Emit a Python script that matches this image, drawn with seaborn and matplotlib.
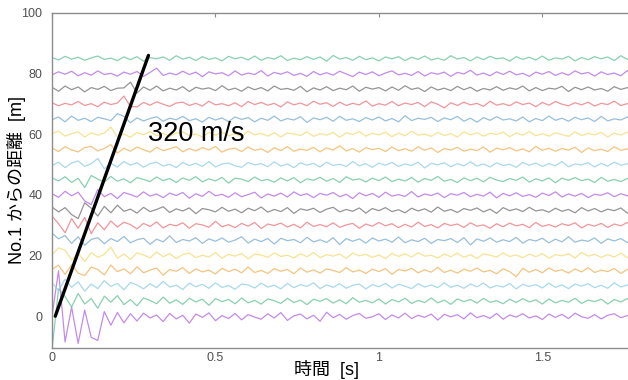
import numpy as np
import pandas as pd
import matplotlib
matplotlib.use("Agg")
import matplotlib.pyplot as plt
import seaborn as sns

# ---- data ----
dt = 0.02  # sample spacing [s]
offsets = [0, 5, 10, 15, 20, 25, 30, 35, 40, 45, 50, 55, 60, 65, 70, 75, 80, 85]
trace_colors = ["#b56ee3", "#6cc4a0", "#93cfe8", "#f0b660", "#f4dc78", "#7eafd3", "#ec7c80", "#7a7a7a"]

tr00 = [0.0, 15.0, -8.5, 3.0, -9.0, 2.0, -7.0, -8.0, 1.5, -3.0, 1.2, -2.2, 0.8, -1.6, 1.0, -0.6, 0.4, -1.8, 0.9, -0.9, 0.3, -2.3, 0.7, -0.4, 1.1, -1.5, 0.2, -0.8, 0.9, -1.2, 0.5, -0.3, -1.0, 0.8, -0.6, 1.2, -1.4, 0.1, 0.7, -0.9, 0.3, -1.7, 1.3, -0.5, 0.6, -1.0, 0.2, 0.9, -0.7, -0.2, 0.8, -1.1, 0.4, -0.6, 1.0, -0.8, 0.3, -0.4, 0.7, -1.3, 0.6, -0.2, 0.5, -0.9, 1.1, -0.5, 0.2, -0.7, 0.9, -1.0, 0.4, -0.3, 0.8, -0.6, 0.1, -1.1, 0.7, -0.4, 0.6, -0.8, 1.0, -0.2, -0.7, 0.5, -0.9, 0.3, 0.8, -0.5, 0.2, -0.6, 0.9, -0.4]
tr05 = [-16.0, 4.0, 1.5, -2.0, 2.5, -1.0, 0.8, -2.4, 1.6, -0.4, 1.8, -1.2, 0.5, -1.6, 1.0, 0.2, -0.9, 1.3, -0.7, 0.4, -1.1, 0.9, -0.3, 0.6, -1.4, 0.8, -0.2, 0.5, -0.9, 1.0, -0.6, 0.2, -1.0, 0.7, 0.1, -0.8, 0.9, -0.5, 0.3, -1.2, 0.6, -0.1, 0.8, -0.7, 0.4, -0.9, 1.1, -0.4, 0.2, -0.6, 0.7, -1.0, 0.5, -0.3, 0.9, -0.8, 0.2, -0.5, 1.0, -0.6, 0.3, -1.1, 0.7, -0.2, 0.5, -0.7, 0.9, -0.4, 0.1, -0.9, 0.6, -0.5, 0.8, -0.3, 0.4, -1.0, 0.7, -0.6, 0.2, -0.4, 0.9, -0.8, 0.3, -0.2, 0.6, -1.0, 0.5, -0.3, 0.8, -0.6, 0.2, -0.5]
tr10 = [1.0, -1.5, 2.2, -0.5, 1.4, -1.8, 0.6, -0.9, 1.7, -0.2, 0.8, -1.3, 1.1, 0.3, -1.0, 0.7, -0.6, 1.5, -0.4, 0.2, -1.2, 0.9, -0.3, 0.5, -0.8, 1.0, -0.5, 0.1, -1.1, 0.6, 0.3, -0.7, 0.9, -0.4, 0.2, -1.0, 0.8, -0.6, 0.4, -0.2, 1.0, -0.9, 0.3, -0.5, 0.7, -0.8, 0.2, 0.6, -1.0, 0.4, -0.3, 0.8, -0.7, 0.5, -0.1, -0.9, 0.7, -0.4, 0.3, -0.6, 1.0, -0.5, 0.2, -0.8, 0.6, -0.3, 0.9, -0.7, 0.1, -0.4, 0.8, -1.0, 0.5, -0.2, 0.4, -0.7, 0.9, -0.5, 0.3, -0.9, 0.6, -0.1, 0.7, -0.6, 0.2, -0.8, 1.0, -0.4, 0.3, -0.5, 0.6, -0.3]
tr15 = [0.5, 1.8, -1.2, 2.0, -0.8, -1.6, 1.2, 0.4, -1.4, 1.9, -0.3, 0.6, -1.0, 1.3, -0.7, 0.2, 0.9, -1.5, 0.4, -0.2, 1.0, -0.9, 0.6, -0.4, 0.2, -1.1, 0.8, -0.3, 0.5, -0.7, 1.2, -0.6, 0.1, -0.9, 0.7, -0.2, 0.4, -1.0, 0.9, -0.5, 0.3, -0.8, 0.6, 0.1, -0.6, 1.0, -0.4, 0.2, -0.9, 0.5, -0.3, 0.7, -1.2, 0.4, -0.1, 0.8, -0.7, 0.3, -0.5, 1.1, -0.6, 0.2, -0.8, 0.5, -0.2, 0.9, -0.4, 0.1, -1.0, 0.6, -0.3, -2.0, 0.8, -0.5, 0.4, -0.7, 0.9, -0.2, 0.3, -0.8, 0.6, -0.4, 1.0, -0.6, 0.2, -0.3, 0.7, -0.9, 0.4, -0.1, 0.5, -0.7]
tr20 = [0.3, 2.5, 1.8, -1.5, 0.8, -2.0, 1.0, -0.6, 0.4, 2.8, -0.9, 0.5, -1.3, 0.9, 0.2, -0.8, 1.2, -0.4, 0.6, -1.0, 0.3, 0.8, -0.7, 0.1, -0.5, 1.0, -0.9, 0.4, -0.2, 0.7, -1.1, 0.5, 0.2, -0.6, 0.9, -0.3, 0.1, -0.8, 0.6, -0.4, 1.0, -0.7, 0.3, -0.2, 0.5, -0.9, 0.8, -0.1, 0.4, -0.6, 0.2, -1.0, 0.7, -0.3, 0.6, -0.5, 0.9, -0.2, 0.1, -0.8, 0.5, -0.4, 0.8, -0.6, 0.3, -1.0, 0.6, 0.1, -0.5, 0.9, -0.3, 0.2, -0.7, 0.5, -0.4, 0.7, -0.9, 0.3, -0.1, 0.6, -0.8, 1.0, -0.2, 0.4, -0.6, 0.3, -0.5, 0.8, -0.7, 0.2, -0.3, 0.6]
tr25 = [2.4, 0.5, 1.6, -1.0, 1.2, -1.6, 0.3, 0.9, -1.1, 0.6, -0.4, 1.3, -0.8, 0.2, 0.7, -1.3, 0.4, -0.5, 1.5, -0.7, 0.3, -0.2, 0.9, -1.0, 0.5, -0.3, 0.8, -0.6, 0.1, 1.2, -0.9, 0.4, -0.4, 0.6, -1.2, 0.7, -0.1, 0.3, -0.8, 1.0, -0.5, 0.2, -0.7, 0.9, -1.4, 0.6, -0.3, 0.5, -0.9, 0.8, -0.2, 0.4, -0.6, 1.1, -0.8, 0.2, -0.4, 0.7, -1.0, 0.3, -0.1, 0.6, -0.7, 0.9, -1.5, 0.5, -0.3, 0.8, -0.6, 0.2, -0.4, 1.0, -0.9, 0.3, -0.2, 0.7, -0.8, 0.4, -0.5, 1.2, -0.6, 0.1, -0.3, 0.8, -1.0, 0.5, -0.2, 0.6, -0.7, 0.3, -0.4, 0.9]
tr30 = [3.0, 0.5, -2.5, 2.2, -1.0, 2.6, -2.8, 0.8, -1.5, 1.4, -0.6, 1.0, 0.2, -1.2, 0.6, -0.4, 1.1, -0.9, 0.3, -0.2, 0.8, -1.0, 0.5, 0.1, -0.7, 1.3, -0.5, 0.2, -0.8, 0.6, -0.3, 0.9, -1.1, 0.4, -0.1, 0.7, -0.6, 0.3, -0.9, 1.0, -0.4, 0.2, -0.5, 0.8, -0.7, 0.1, 0.6, -1.0, 0.4, -0.3, 0.9, -0.2, 0.5, -0.8, 0.3, -0.6, 1.0, -0.4, 0.2, -0.9, 0.6, -0.1, 0.4, -0.7, 0.8, -0.3, 0.1, -1.0, 0.5, -0.5, 0.7, -0.2, 0.3, -0.8, 0.9, -0.4, 0.2, -0.6, 0.5, -0.1, 0.8, -0.9, 0.3, -0.3, 0.6, -0.7, 0.4, -0.2, 0.9, -0.5, 0.1, -0.6]
tr35 = [1.0, -0.6, 0.8, -1.5, -2.8, 2.4, 0.6, -2.0, 1.2, -0.9, 1.6, -0.4, 0.3, -1.0, 0.9, -0.5, 0.2, 1.1, -0.8, 0.4, -0.3, 0.7, -1.2, 0.5, 0.1, -0.6, 0.9, -0.4, 0.3, -0.9, 0.6, -0.2, 1.0, -0.7, 0.2, -0.5, 0.8, -1.1, 0.4, -0.1, 0.6, -0.8, 0.3, 0.9, -0.6, 0.2, -0.4, 0.7, -1.0, 0.5, -0.2, 0.8, -0.5, 0.1, -0.9, 0.6, -0.3, 0.4, -0.7, 1.0, -0.4, 0.2, -0.8, 0.5, -0.1, 0.7, -0.6, 0.3, -1.1, 0.8, -0.2, 0.4, -0.5, 0.9, -0.3, 0.1, -0.7, 0.6, -0.4, 0.2, -0.9, 0.8, -0.3, 0.5, -0.6, 0.3, -0.2, 0.7, -1.0, 0.4, -0.1, 0.6]
tr40 = [0.4, -0.8, 1.2, -0.3, 0.9, -2.0, -3.2, 1.8, -0.6, 0.5, -1.2, 0.8, 0.1, -0.7, 1.0, -0.4, 0.3, -0.9, 0.6, -0.2, 0.8, -1.1, 0.4, -0.5, 1.2, -0.3, 0.2, -0.8, 0.7, -0.6, 0.1, 0.9, -1.0, 0.3, -0.4, 0.6, -0.7, 1.0, -0.2, 0.4, -0.9, 0.5, -0.1, 0.8, -0.6, 0.2, -1.2, 0.7, -0.3, 0.5, -0.8, 0.9, -0.4, 0.1, -0.5, 1.1, -0.7, 0.3, -0.2, 0.6, -0.9, 0.4, -0.1, 0.8, -0.6, 0.2, -0.4, 0.9, -1.0, 0.5, -0.3, 0.7, -0.5, 0.1, -0.8, 0.6, -0.2, 1.0, -0.7, 0.3, -0.4, 0.5, -0.9, 0.2, -0.1, 0.7, -0.6, 0.4, -0.3, 0.8, -0.5, 0.2]
tr45 = [0.6, -0.4, 1.0, -0.9, 0.5, -2.6, 1.4, 0.2, -0.8, 1.1, -0.5, 0.3, -1.0, 0.7, 0.1, -0.6, 0.9, -0.3, 0.4, -0.9, 0.6, -0.2, 1.0, -0.7, 0.3, -0.4, 0.8, -1.1, 0.5, 0.2, -0.6, 0.9, -0.3, 0.1, -0.8, 0.6, -0.4, 0.7, -1.0, 0.3, -0.2, 0.8, -0.5, 0.4, -0.9, 1.0, -0.1, 0.3, -0.7, 0.5, -0.3, 0.9, -0.6, 0.2, -0.4, 0.7, -0.8, 0.4, -0.2, 1.1, -0.5, 0.1, -0.9, 0.6, -0.3, 0.5, -0.7, 0.8, -0.1, -0.6, 0.4, -0.2, 0.9, -0.8, 0.3, -0.4, 0.6, -1.0, 0.5, -0.2, 0.7, -0.3, 0.2, -0.9, 0.8, -0.5, 0.1, -0.6, 0.4, -0.3, 0.7, -0.4]
tr50 = [-0.3, 0.8, -1.0, 0.5, 1.2, -0.6, 0.3, 2.0, -1.4, 0.4, -0.8, 1.0, -0.2, 0.6, -0.9, 0.3, 0.8, -0.5, 0.1, -1.0, 0.7, -0.3, 0.4, -0.6, 1.0, -0.8, 0.2, 0.5, -0.4, -0.9, 0.7, -0.1, 0.3, -0.7, 0.9, -0.5, 0.2, -1.0, 0.6, -0.2, 0.4, -0.8, 0.8, -0.3, 0.1, -0.6, 1.0, -0.4, 0.3, -0.9, 0.5, -0.2, 0.7, -0.6, 0.2, -0.3, 0.8, -1.1, 0.4, -0.1, 0.6, -0.7, 0.3, -0.4, 0.9, -0.5, 0.2, -0.8, 0.6, -0.3, 0.1, -0.9, 0.7, -0.2, 0.5, -0.6, 0.3, -0.4, 1.0, -0.7, 0.2, -0.1, 0.6, -0.8, 0.4, -0.5, 0.8, -0.2, 0.3, -0.9, 0.5, -0.3]
tr55 = [0.5, -0.7, 0.9, -0.2, -0.8, 0.6, 1.0, -0.5, 0.3, 1.6, -1.2, 0.4, -0.6, 0.8, -0.1, -0.9, 0.7, -0.4, 0.2, 0.9, -0.8, 0.3, -0.5, 0.6, -0.2, 1.0, -0.9, 0.1, 0.4, -0.7, 0.8, -0.3, 0.2, -1.0, 0.6, -0.4, 0.9, -0.6, 0.1, -0.3, 0.7, -0.8, 0.5, -0.2, 1.2, -0.5, 0.3, -0.9, 0.6, -0.1, 0.4, -0.7, 0.8, -0.4, 0.2, -0.6, 0.9, -0.3, 0.5, -1.0, 0.3, -0.2, 0.7, -0.6, 0.1, -0.4, 0.8, -0.9, 0.4, -0.1, 0.6, -0.5, 0.2, -0.8, 1.0, -0.3, 0.4, -0.6, 0.3, -0.2, 0.7, -1.0, 0.5, -0.4, 0.1, -0.7, 0.9, -0.3, 0.2, -0.5, 0.6, -0.2]
tr60 = [0.3, 1.0, -0.6, 0.2, 0.8, -0.9, 0.5, -0.3, 0.4, 2.4, -0.8, 0.1, -1.0, 0.6, -0.2, 0.9, -0.5, 0.3, -0.7, 0.4, 0.8, -0.4, 0.1, -0.9, 0.6, -0.3, 0.7, -0.5, 0.2, -0.8, 1.0, -0.2, 0.3, -0.6, 0.5, -0.9, 0.4, 0.1, -0.4, 0.8, -0.7, 0.2, -0.3, 0.6, -1.0, 0.5, -0.1, 0.9, -0.6, 0.3, -0.2, 0.7, -0.8, 0.4, -0.5, 1.0, -0.3, 0.1, -0.7, 0.6, -0.4, 0.2, -0.9, 0.8, -0.2, 0.5, -0.6, 0.3, -0.1, 0.7, -0.8, 0.4, -0.3, 0.9, -0.5, 0.2, -0.6, 0.5, -0.1, -0.7, 0.8, -0.4, 0.3, -0.2, 0.6, -0.9, 0.4, -0.3, 0.7, -0.5, 0.1, -0.4]
tr65 = [-0.2, 0.7, -0.9, 1.0, -0.4, 0.3, -0.8, 0.6, 0.1, -0.5, 1.8, 0.9, -1.2, 0.4, -0.6, 0.2, 0.8, -0.7, 0.3, -0.2, 0.9, -0.5, 0.1, -1.0, 0.6, -0.3, 0.4, -0.8, 0.7, -0.1, 0.5, -0.9, 0.3, -0.4, 1.0, -0.6, 0.2, -0.3, 0.8, -1.1, 0.4, -0.2, 0.6, -0.7, 0.9, -0.4, 0.1, -0.8, 0.5, -0.3, 0.7, -0.6, 0.2, -0.9, 1.1, -0.5, 0.3, -0.1, 0.6, -0.8, 0.4, -0.2, 0.9, -0.7, 0.3, -1.0, 0.5, -0.4, 0.8, -0.3, 0.1, -0.6, 0.7, -0.9, 0.2, -0.5, 1.0, -0.4, 0.3, -0.7, 0.6, -0.2, 0.4, -0.8, 0.9, -0.6, 0.1, -0.3, 0.7, -0.5, 0.3, -0.6]
tr70 = [0.4, -0.6, 0.2, -0.3, 0.8, -0.5, 0.1, -0.9, 0.6, -0.2, 0.3, 2.6, -0.8, -1.0, 0.5, -0.4, 0.7, -0.1, -0.8, 0.3, 0.6, -0.5, 0.2, -0.7, 0.9, -0.3, 0.1, -0.6, 0.4, -0.9, 0.8, -0.2, 0.5, -0.4, 0.2, -1.0, 0.7, -0.3, 0.3, -0.6, 0.9, -0.1, 0.4, -0.8, 0.6, -0.5, 0.2, -0.3, 1.0, -0.7, 0.1, -0.4, 0.8, -0.6, 0.3, -0.2, 0.5, -0.9, 0.7, -0.1, -1.3, 0.4, -0.5, 0.6, -0.3, 0.2, -0.8, 0.9, -0.4, 0.1, -0.6, 0.7, -0.2, 0.3, -0.9, 0.5, -0.4, 0.8, -0.1, -0.6, 0.4, -0.3, 0.6, -0.7, 0.2, -0.2, 0.9, -0.5, 0.1, -0.4, 0.5, -0.3]
tr75 = [0.5, -0.8, 0.9, -0.3, 0.6, -1.0, 0.4, -0.2, 0.8, -0.6, 0.2, 0.3, 2.2, -1.4, 0.6, -0.5, 0.9, -0.7, 0.2, -0.4, 0.7, -0.9, 0.5, -0.1, 0.3, -0.6, 1.0, -0.4, 0.2, -0.8, 0.6, -0.3, 0.4, -0.7, 0.9, -0.2, 0.1, -0.5, 0.8, -1.0, 0.3, -0.4, 0.7, -0.6, 0.2, -0.3, 0.9, -0.8, 0.5, -0.1, 0.4, -0.7, 0.6, -0.5, 1.0, -0.2, 0.3, -0.9, 0.6, -0.4, 0.2, -0.6, 0.8, -0.3, 0.5, -0.8, 0.1, -0.4, 0.7, -0.5, 0.3, -0.2, 0.9, -0.7, 0.4, -0.6, 0.2, -0.1, 0.8, -0.9, 0.5, -0.3, 0.6, -0.4, 0.1, -0.8, 0.7, -0.2, 0.4, -1.1, 0.9, -0.3]
tr80 = [-0.4, 0.6, -0.2, 0.8, -0.7, 0.3, -0.5, 0.9, -0.3, 0.1, -0.8, 0.5, -0.2, 0.7, -0.9, 0.4, 1.8, -0.6, 0.2, -0.4, 0.8, -0.3, 0.5, -1.0, 0.6, -0.1, 0.3, -0.7, 0.9, -0.5, 0.2, -0.3, 1.0, -0.8, 0.4, -0.2, 0.6, -0.6, 0.1, -0.9, 0.7, -0.4, 0.3, -0.5, 0.8, -0.1, -1.0, 0.5, -0.3, 0.6, -0.7, 0.2, 0.9, -0.4, 0.1, -0.6, 0.7, -0.8, 0.3, -0.2, 0.5, -0.9, 0.4, -0.1, 1.1, -0.5, 0.2, -0.7, 0.6, -0.3, 0.8, -0.4, 0.1, -0.9, 0.5, -0.2, 0.7, -0.6, 0.3, -0.5, 0.9, -0.1, 0.4, -0.8, 0.6, -0.3, 0.2, -0.7, 1.0, -0.4, 0.3, -0.6]
tr85 = [0.3, -0.5, 0.7, -0.2, 0.4, -0.6, 0.2, 0.8, -0.3, 0.1, -0.7, 0.5, -0.4, 0.6, -0.9, 0.3, -0.1, 0.5, -0.6, 0.9, -0.2, 0.4, -0.7, 0.6, -0.3, 0.2, -0.8, 0.7, -0.1, 0.4, -0.5, 0.8, -0.6, 0.3, -0.2, 0.9, -0.7, 0.1, -0.4, 0.6, -0.3, 0.5, -0.9, 1.0, -0.2, 0.3, -0.6, 0.7, -0.4, 0.2, -0.8, 0.5, -0.1, 0.6, -0.7, 0.4, -0.3, 0.8, -0.5, 0.1, -0.6, 0.9, -0.2, 0.3, -0.8, 0.5, -0.4, 0.7, -0.1, 0.2, -0.9, 0.6, -0.3, 0.4, -0.5, 0.8, -0.6, 0.2, -0.2, 0.7, -0.8, 0.3, -0.4, 0.6, -0.1, 0.5, -0.7, 0.9, -0.3, 0.2, -0.5, 0.4]

traces = [tr00, tr05, tr10, tr15, tr20, tr25, tr30, tr35, tr40,
          tr45, tr50, tr55, tr60, tr65, tr70, tr75, tr80, tr85]

# apparent velocity line (320 m/s)
vel_t = [0.01, 0.295]
vel_d = [0, 86]
vel_label = "320 m/s"

x_ticks = [0, 0.5, 1, 1.5]
x_ticklabels = ["0", "0.5", "1", "1.5"]
y_ticks = [0, 20, 40, 60, 80, 100]
x_label = "時間  [s]"
y_label = "No.1 からの距離  [m]"

# ---- build long table ----
rows = []
for k, (off, vals) in enumerate(zip(offsets, traces)):
    for i, v in enumerate(vals):
        rows.append({"t": i * dt, "y": off + v, "trace": f"ch{k:02d}"})
df = pd.DataFrame(rows)
palette = {f"ch{k:02d}": trace_colors[k % len(trace_colors)] for k in range(len(offsets))}

sns.set_style("white")
plt.rcParams["font.family"] = ["Liberation Sans", "Noto Sans CJK JP", "DejaVu Sans"]

fig = plt.figure(figsize=(6.28, 3.8), dpi=100)
ax = fig.add_axes([0.0828, 0.0842, 0.9172, 0.8816])

sns.lineplot(data=df, x="t", y="y", hue="trace", palette=palette,
             estimator=None, sort=False, legend=False, linewidth=0.9,
             alpha=0.8, ax=ax)
sns.lineplot(x=vel_t, y=vel_d, color="black", linewidth=2.4, ax=ax)
ax.text(0.293, 60, vel_label, fontsize=19.5, va="center", ha="left", color="black")

ax.set_xlim(0, 1.762)
ax.set_ylim(-10.5, 100)
ax.set_xticks(x_ticks)
ax.set_xticklabels(x_ticklabels)
ax.set_yticks(y_ticks)

ax.tick_params(axis="both", direction="in", length=3, width=0.8,
               colors="#8c8c8c", labelcolor="#505050", labelsize=9)
ax.tick_params(axis="y", pad=7)
ax.tick_params(axis="x", top=True, pad=3)

for side in ["left", "bottom", "top"]:
    ax.spines[side].set_color("#8c8c8c")
    ax.spines[side].set_linewidth(1.0)
ax.spines["right"].set_visible(False)

ax.set_xlabel(x_label, fontsize=13, color="black")
ax.set_ylabel(y_label, fontsize=13, color="black")
ax.xaxis.set_label_coords(0.476, -0.035)
ax.yaxis.set_label_coords(-0.045, 0.5)

fig.savefig("out.png", dpi=100)
